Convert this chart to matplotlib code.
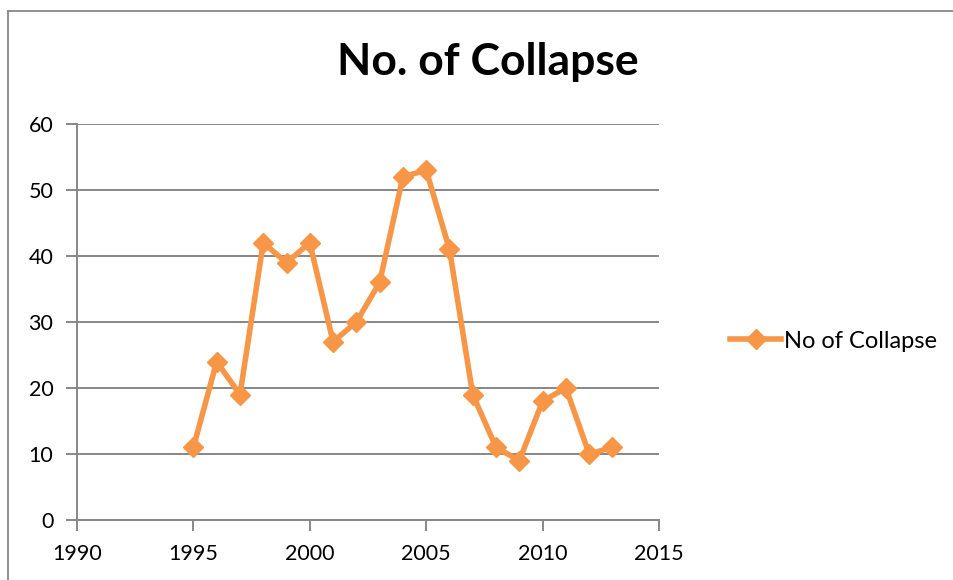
import matplotlib.pyplot as plt
from matplotlib.lines import Line2D

plt.rcParams['font.family'] = ['Lato', 'DejaVu Sans']

years = [1995, 1996, 1997, 1998, 1999, 2000, 2001, 2002, 2003, 2004,
         2005, 2006, 2007, 2008, 2009, 2010, 2011, 2012, 2013]
collapses = [11, 24, 19, 42, 39, 42, 27, 30, 36, 52,
             53, 41, 19, 11, 9, 18, 20, 10, 11]
series_name = "No of Collapse"
title = "No. of Collapse"

orange = "#F79646"
grey = "#878787"

fig = plt.figure(figsize=(9.54, 5.8), dpi=100)

# chart area frame: only left and top edges show, the rest runs off the image
fx = 8 / 954
fy = 1 - 11 / 580
fig.lines.append(Line2D([fx, fx], [-0.1, fy], transform=fig.transFigure,
                        color=grey, linewidth=1.3))
fig.lines.append(Line2D([fx, 1.1], [fy, fy], transform=fig.transFigure,
                        color=grey, linewidth=1.3))

ax = fig.add_axes([77 / 954, 1 - 520 / 580, 582 / 954, 396 / 580])

ax.plot(years, collapses, color=orange, linewidth=4, marker="D",
        markersize=10, label=series_name, solid_joinstyle="round")

ax.set_xlim(1990, 2015)
ax.set_ylim(0, 60)
ax.set_xticks(range(1990, 2016, 5))
ax.set_yticks(range(0, 61, 10))
ax.yaxis.grid(True, color=grey, linewidth=1.4)
ax.set_axisbelow(True)

for s in ["top", "right"]:
    ax.spines[s].set_visible(False)
for s in ["left", "bottom"]:
    ax.spines[s].set_color(grey)
    ax.spines[s].set_linewidth(1.4)

ax.tick_params(axis="both", direction="out", length=8, width=1.4,
               color=grey, labelsize=15.5, labelcolor="black")
ax.tick_params(axis="y", pad=9)
ax.tick_params(axis="x", pad=9)

fig.text(488 / 954, 1 - 62 / 580, title, ha="center", va="center",
         fontsize=32, fontweight="bold")

fig.legend(loc="center left", bbox_to_anchor=(721 / 954, 1 - 341 / 580),
           frameon=False, fontsize=17, handlelength=2.15, handletextpad=0.1,
           borderaxespad=0)

fig.savefig("out.png", dpi=100)
